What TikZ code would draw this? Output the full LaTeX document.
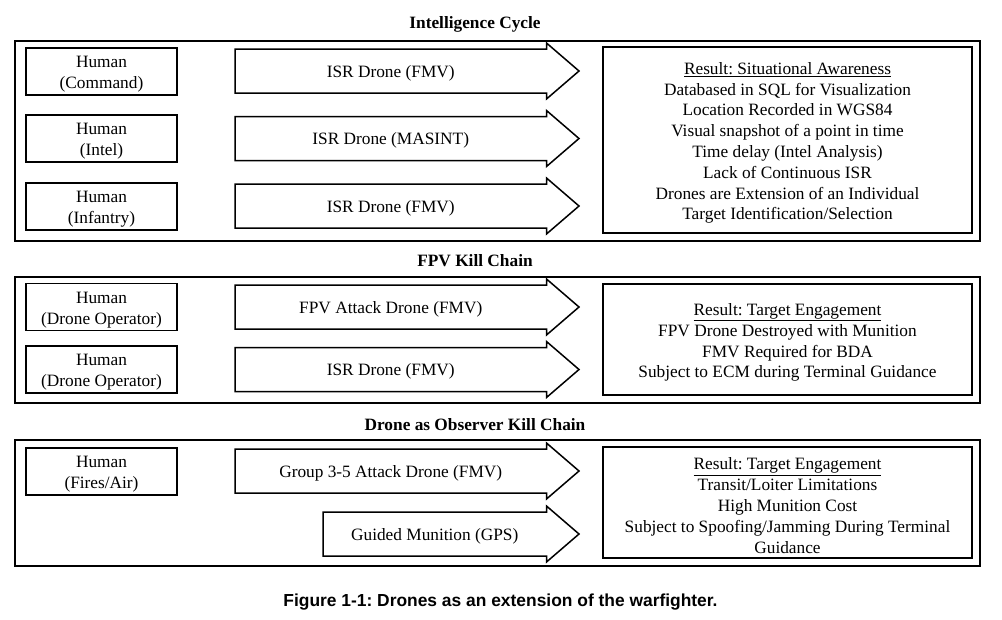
\documentclass[tikz,border=0pt]{standalone}
\usepackage{fontspec}
\setmainfont{Liberation Serif}
\newfontfamily\capfont{Liberation Sans}
\frenchspacing
\begin{document}
\begin{tikzpicture}[x=1pt,y=-1pt,
  every node/.style={font=\fontsize{17.3}{20.8}\selectfont},
  frame/.style={draw=black,line width=1.5pt},
  humanbox/.style={draw=black,line width=1.5pt,minimum width=151pt,minimum height=47pt,inner sep=0pt},
  resbox/.style={draw=black,line width=1.5pt,minimum width=369pt,inner sep=0pt},
  arrowline/.style={draw=black,line width=1.5pt,line join=miter},
  ttl/.style={font=\fontsize{17.3}{20.8}\selectfont\bfseries},
  lbl/.style={inner sep=0pt,align=center}
]
\useasboundingbox (0,0) rectangle (1002,619);
\frenchspacing
\newcommand\dronearrow[4]{%
  \draw[arrowline] ({#2},{#3-22}) -- (546.5,{#3-22}) -- (546.5,{#3-28}) -- (579,{#3})
    -- (546.5,{#3+28}) -- (546.5,{#3+22}) -- ({#2},{#3+22}) -- cycle;
  \node[lbl] (#1) at ({(#2+546.5)/2},{#3+2}) {#4};}

% ---- Intelligence Cycle ----
\node[ttl] (t1) at (475,24) {Intelligence Cycle};
\draw[frame] (15,41) rectangle (980,241);
\node[humanbox] (h1) at (101.5,71.5) {};
\node[lbl] (h1t) at ([yshift=-3pt]h1.center) {Human\\(Command)};
\node[humanbox] (h2) at (101.5,138.5) {};
\node[lbl] (h2t) at ([yshift=-3pt]h2.center) {Human\\(Intel)};
\node[humanbox] (h3) at (101.5,206.5) {};
\node[lbl] (h3t) at ([yshift=-3pt]h3.center) {Human\\(Infantry)};
\dronearrow{a1}{235}{71}{ISR Drone (FMV)}
\dronearrow{a2}{235}{138.5}{ISR Drone (MASINT)}
\dronearrow{a3}{235}{206}{ISR Drone (FMV)}
\node[resbox,minimum height=186pt] (r1) at (787.5,140) {};
\node[lbl] (r1t) at ([yshift=-3pt]r1.center) {\underline{Result: Situational Awareness}\\
Databased in SQL for Visualization\\
Location Recorded in WGS84\\
Visual snapshot of a point in time\\
Time delay (Intel Analysis)\\
Lack of Continuous ISR\\
Drones are Extension of an Individual\\
Target Identification/Selection};

% ---- FPV Kill Chain ----
\node[ttl] (t2) at (475,261) {FPV Kill Chain};
\draw[frame] (15,277) rectangle (980,403);
\node[humanbox] (h4) at (101.5,307) {};
\node[lbl] (h4t) at ([yshift=-3pt]h4.center) {Human\\(Drone Operator)};
\node[humanbox] (h5) at (101.5,369.5) {};
\node[lbl] (h5t) at ([yshift=-3pt]h5.center) {Human\\(Drone Operator)};
\dronearrow{a4}{235}{307}{FPV Attack Drone (FMV)}
\dronearrow{a5}{235}{369.5}{ISR Drone (FMV)}
\node[resbox,minimum height=111pt] (r2) at (787.5,339.5) {};
\node[lbl] (r2t) at ([yshift=-3pt]r2.center) {\underline{Result: Target Engagement}\\
FPV Drone Destroyed with Munition\\
FMV Required for BDA\\
Subject to ECM during Terminal Guidance};

% ---- Drone as Observer Kill Chain ----
\node[ttl] (t3) at (475,425) {Drone as Observer Kill Chain};
\draw[frame] (15,440) rectangle (980,566);
\node[humanbox] (h6) at (101.5,471.5) {};
\node[lbl] (h6t) at ([yshift=-3pt]h6.center) {Human\\(Fires/Air)};
\dronearrow{a6}{235}{471}{Group 3-5 Attack Drone (FMV)}
\dronearrow{a7}{323}{534}{Guided Munition (GPS)}
\node[resbox,minimum height=111pt] (r3) at (787.5,502.5) {};
\node[lbl] (r3t) at ([yshift=-3pt]r3.center) {\underline{Result: Target Engagement}\\
Transit/Loiter Limitations\\
High Munition Cost\\
Subject to Spoofing/Jamming During Terminal\\
Guidance};

% ---- caption ----
\node[font=\capfont\bfseries\fontsize{17.4}{20.8}\selectfont] (cap) at (500.5,602.5) {Figure 1-1: Drones as an extension of the warfighter.};
\end{tikzpicture}
\end{document}
